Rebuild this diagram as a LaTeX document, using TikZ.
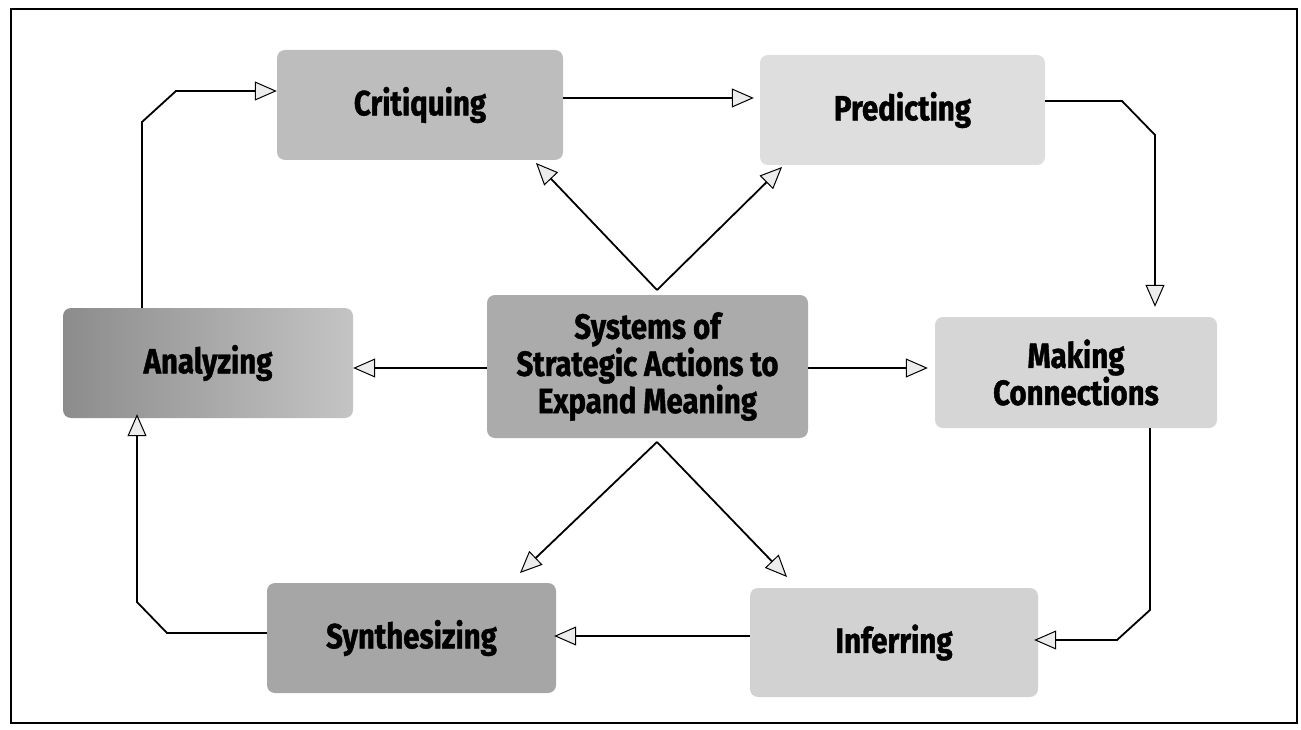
\documentclass[tikz,border=0pt]{standalone}
\usepackage{fontspec}
\newfontfamily\labfont{Fira Sans}[FakeStretch=0.84, BoldFeatures={FakeBold=1.2}]
\usetikzlibrary{arrows.meta}
\definecolor{gcrit}{HTML}{BDBDBD}
\definecolor{gpred}{HTML}{DEDEDE}
\definecolor{ganaL}{HTML}{8C8C8C}
\definecolor{ganaR}{HTML}{C4C4C4}
\definecolor{gcen}{HTML}{ABABAB}
\definecolor{gmak}{HTML}{D6D6D6}
\definecolor{gsyn}{HTML}{A6A6A6}
\definecolor{ginf}{HTML}{D2D2D2}
\begin{document}
\begin{tikzpicture}[x=1pt,y=-1pt,
  box/.style={rounded corners=8pt, inner sep=0pt, align=center,
    font=\labfont\bfseries\fontsize{35}{31}\selectfont},
  conn/.style={line width=1.8pt, -{Triangle[length=22pt,width=19pt,fill=gray!15,line width=1pt]}}]
\useasboundingbox (0,0) rectangle (1301,730);
\draw[line width=1.4pt] (11,9) rectangle (1297,723);

\node[box, fill=gcrit, minimum width=286pt, minimum height=110pt] (crit) at (420,105) {Critiquing};
\node[box, fill=gpred, minimum width=285pt, minimum height=110pt] (pred) at (902.5,110) {Predicting};
\node[box, left color=ganaL, right color=ganaR, minimum width=290pt, minimum height=110pt] (ana) at (208,363) {Analyzing};
\node[box, fill=gcen, minimum width=321pt, minimum height=143pt] (cen) at (647.5,366.5) {Systems of\\Strategic Actions to\\Expand Meaning};
\node[box, fill=gmak, minimum width=282pt, minimum height=111pt] (mak) at (1076,372.5) {Making\\Connections};
\node[box, fill=gsyn, minimum width=289pt, minimum height=110pt] (syn) at (411.5,638) {Synthesizing};
\node[box, fill=ginf, minimum width=288pt, minimum height=109pt] (inf) at (894,642.5) {Inferring};

% routing coordinates
\coordinate (a1) at (142,122);
\coordinate (a2) at (176,91);
\coordinate (h1) at (0,98);
\coordinate (p1) at (1122,101);
\coordinate (p2) at (1155,135);
\coordinate (m1) at (1150,610);
\coordinate (m2) at (1117,640);
\coordinate (h2) at (0,636);
\coordinate (s1) at (167,633);
\coordinate (s2) at (137,602);
\coordinate (h3) at (0,368);
\coordinate (ta) at (657,290);
\coordinate (ba) at (657,442);
\coordinate (tc) at (536,163);
\coordinate (tp) at (782,167);
\coordinate (bs) at (520,573);
\coordinate (bi) at (787,577);

\draw[conn] (ana.north -| a1) -- (a1) -- (a2) -- (crit.west |- a2);
\draw[conn, shorten >=6pt] (crit.east |- h1) -- (pred.west |- h1);
\draw[conn, shorten >=10pt] (pred.east |- p1) -- (p1) -- (p2) -- (mak.north -| p2);
\draw[conn, shorten >=-4pt] (mak.south -| m1) -- (m1) -- (m2) -- (inf.east |- m2);
\draw[conn, shorten >=-2pt] (inf.west |- h2) -- (syn.east |- h2);
\draw[conn, shorten >=-4pt] (syn.west |- s1) -- (s1) -- (s2) -- (ana.south -| s2);
\draw[conn] (cen.west |- h3) -- (ana.east |- h3);
\draw[conn, shorten >=7pt] (cen.east |- h3) -- (mak.west |- h3);
\draw[conn] (ta) -- (tc);
\draw[conn] (ta) -- (tp);
\draw[conn] (ba) -- (bs);
\draw[conn] (ba) -- (bi);
\end{tikzpicture}
\end{document}
